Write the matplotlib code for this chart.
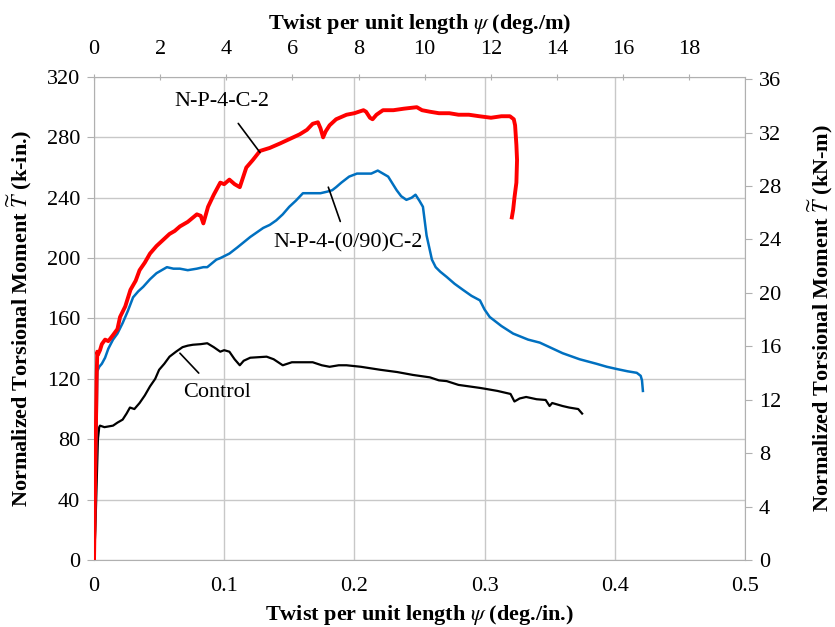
import matplotlib
matplotlib.use('Agg')
import matplotlib.pyplot as plt

plt.rcParams['font.family'] = 'Liberation Serif'
plt.rcParams['mathtext.fontset'] = 'stix'

# N-P-4-C-2 (red)
red_x = [0, 0.001, 0.002, 0.0025, 0.003, 0.0046, 0.006, 0.0085, 0.011, 0.0146, 0.018, 0.02, 0.024,
         0.028, 0.032, 0.035, 0.039, 0.043, 0.048, 0.053, 0.058, 0.062, 0.066, 0.072, 0.079, 0.082,
         0.084, 0.0876, 0.092, 0.097, 0.100, 0.104, 0.108, 0.112, 0.117, 0.122, 0.1275, 0.135, 0.143,
         0.148, 0.153, 0.158, 0.1636, 0.168, 0.172, 0.174, 0.176, 0.178, 0.181, 0.186, 0.194, 0.200,
         0.207, 0.209, 0.212, 0.214, 0.217, 0.222, 0.230, 0.238, 0.248, 0.252, 0.258, 0.265, 0.273,
         0.28, 0.288, 0.296, 0.305, 0.313, 0.3195, 0.3225, 0.3235, 0.3245, 0.325, 0.3245, 0.323,
         0.322, 0.321]
red_y = [0, 60, 120, 138, 136, 139, 143, 146, 145, 149, 153, 161, 168,
         179, 185, 192, 197, 203, 208, 212, 216, 218, 221, 224, 229, 228,
         223, 234, 242, 250, 249, 252, 249, 247, 260, 265, 271, 273, 276,
         278, 280, 282, 285, 289, 290, 286, 280, 284, 288, 292, 295, 296,
         298, 297, 293, 292, 295, 298, 298, 299, 300, 298, 297, 296, 296,
         295, 295, 294, 293, 294, 294, 292, 288, 275, 265, 250, 240,
         232, 227]

# N-P-4-(0/90)C-2 (blue)
blue_x = [0, 0.001, 0.002, 0.0025, 0.004, 0.006, 0.0085, 0.011, 0.0146, 0.018, 0.022, 0.026, 0.030,
          0.034, 0.0378, 0.043, 0.048, 0.052, 0.056, 0.061, 0.066, 0.072, 0.079, 0.084, 0.087, 0.094,
          0.097, 0.104, 0.110, 0.120, 0.125, 0.130, 0.135, 0.140, 0.145, 0.150, 0.155, 0.1605, 0.168,
          0.174, 0.179, 0.183, 0.186, 0.190, 0.196, 0.202, 0.208, 0.213, 0.218, 0.222, 0.226, 0.2325,
          0.236, 0.24, 0.244, 0.247, 0.25, 0.2527, 0.2555, 0.2596, 0.2625, 0.266, 0.271, 0.277, 0.2834,
          0.290, 0.2965, 0.300, 0.304, 0.313, 0.322, 0.3335, 0.3425, 0.350, 0.360, 0.373, 0.386, 0.394,
          0.4017, 0.41, 0.417, 0.420, 0.421, 0.4217]
blue_y = [0, 40, 90, 125, 128, 130, 134, 140, 146, 150, 157, 165, 174,
          178, 181, 186, 190, 192, 194, 193, 193, 192, 193, 194, 194, 199,
          200, 203, 207, 214, 217, 220, 222, 225, 229, 234, 238, 243, 243,
          243, 244, 245, 247, 250, 254, 256, 256, 256, 258, 256, 254, 245,
          241, 238.6, 240, 242, 238, 234, 215, 199, 194, 191, 187.5, 183, 179,
          175, 172, 166, 161, 155, 150, 146, 144, 141, 137, 133, 130, 128,
          126.5, 125, 124, 122, 119, 112]

# Control (black)
ctrl_x = [0, 0.001, 0.002, 0.003, 0.004, 0.0046, 0.008, 0.0146, 0.018, 0.022, 0.025, 0.0276, 0.031,
          0.035, 0.039, 0.043, 0.047, 0.05, 0.054, 0.058, 0.063, 0.068, 0.072, 0.076, 0.082, 0.087,
          0.092, 0.097, 0.100, 0.104, 0.108, 0.112, 0.115, 0.12, 0.1326, 0.138, 0.145, 0.152, 0.16,
          0.168, 0.175, 0.181, 0.188, 0.194, 0.205, 0.22, 0.233, 0.245, 0.258, 0.265, 0.271, 0.28,
          0.2965, 0.3, 0.31, 0.32, 0.323, 0.327, 0.332, 0.34, 0.347, 0.35, 0.352, 0.36, 0.365, 0.372, 0.375]
ctrl_y = [0, 20, 50, 80, 88, 89, 88, 89, 91, 93, 97, 101, 100,
          104, 109, 115, 120, 126, 130, 134.7, 138, 141, 142, 142.6, 143, 143.6,
          141, 138, 139, 138, 133, 129, 132, 134, 134.7, 133, 129, 131, 131,
          131, 129, 128, 129, 129, 128, 126, 124.5, 122.6, 121, 119, 118.5, 116,
          114, 113.5, 112, 110, 105, 107, 108, 106.5, 106, 102, 104, 102, 101, 100, 97]

KIN_TO_KNM = 0.113
DEGIN_TO_DEGM = 39.37
FS = 16

fig = plt.figure(figsize=(8.35, 6.27), dpi=100)
ax = fig.add_axes([0.1126, 0.1069, 0.7794, 0.7703])

ax.plot(ctrl_x, ctrl_y, color='black', lw=1.6, zorder=3)
ax.plot(blue_x, blue_y, color='#0070c0', lw=1.8, zorder=4)
ax.plot(red_x, red_y, color='#ff0000', lw=2.8, zorder=5)

ax.set_xlim(0, 0.5)
ax.set_ylim(0, 320)
ax.set_xticks([0, 0.1, 0.2, 0.3, 0.4, 0.5])
ax.set_xticklabels(['0', '0.1', '0.2', '0.3', '0.4', '0.5'])
ax.set_yticks(range(0, 321, 40))
ax.grid(True, color='#c8c8c8', lw=1.0)
ax.set_axisbelow(True)
for s in ax.spines.values():
    s.set_color('#b0b0b0')
ax.tick_params(axis='both', labelsize=FS, color='#b0b0b0', length=5, pad=5)
ax.tick_params(axis='x', length=0, pad=12)
ax.set_xlabel(r'Twist per unit length $\psi$ (deg./in.)', fontsize=FS, fontweight='bold', labelpad=5)
ax.set_ylabel(r'Normalized Torsional Moment $\widetilde{T}$ (k-in.)', fontsize=FS,
              fontweight='bold', labelpad=9)

ax2 = ax.twinx()
ax2.set_ylim(0, 320 * KIN_TO_KNM)
ax2.set_yticks(range(0, 37, 4))
ax2.tick_params(axis='y', labelsize=FS, color='#b0b0b0', length=5, pad=5)
ax2.set_ylabel(r'Normalized Torsional Moment $\widetilde{T}$ (kN-m)', fontsize=FS,
               fontweight='bold', labelpad=18)
for s in ax2.spines.values():
    s.set_visible(False)

ax3 = ax.twiny()
ax3.set_xlim(0, 0.5 * DEGIN_TO_DEGM)
ax3.set_xticks(range(0, 19, 2))
ax3.tick_params(axis='x', labelsize=FS, color='#b0b0b0', length=4, direction='inout', pad=11)
ax3.set_xlabel(r'Twist per unit length $\psi$ (deg./m)', fontsize=FS, fontweight='bold', labelpad=8)
for s in ax3.spines.values():
    s.set_visible(False)

ax.annotate('N-P-4-C-2', xy=(0.1275, 270), xytext=(0.098, 304), fontsize=FS,
            ha='center', va='center',
            arrowprops=dict(arrowstyle='-', color='black', lw=1.2, shrinkA=9, shrinkB=0), zorder=6)
ax.annotate('N-P-4-(0/90)C-2', xy=(0.18, 247), xytext=(0.195, 210), fontsize=FS,
            ha='center', va='center',
            arrowprops=dict(arrowstyle='-', color='black', lw=1.2, shrinkA=7, shrinkB=0), zorder=6)
ax.annotate('Control', xy=(0.066, 137), xytext=(0.0945, 111), fontsize=FS,
            ha='center', va='center',
            arrowprops=dict(arrowstyle='-', color='black', lw=1.2, shrinkA=7, shrinkB=0), zorder=6)

fig.savefig('out.png', dpi=100)
